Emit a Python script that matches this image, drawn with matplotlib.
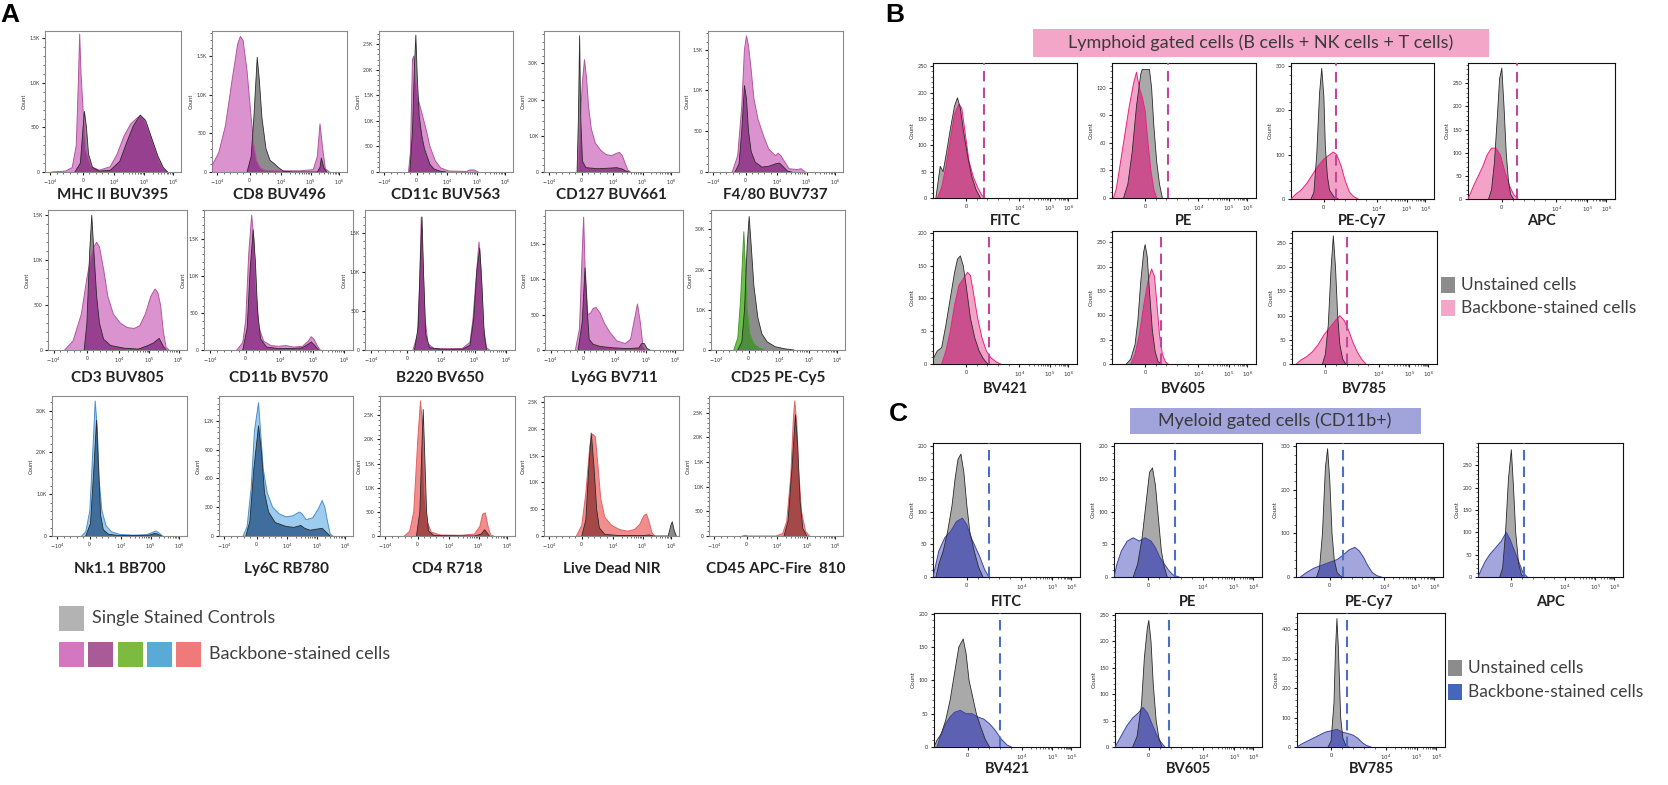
import numpy as np
import matplotlib
matplotlib.use("Agg")
import matplotlib.pyplot as plt
from matplotlib.patches import Rectangle
from matplotlib.ticker import AutoMinorLocator

plt.rcParams['font.family'] = ['Lato', 'DejaVu Sans']

# ---------------- data ----------------
# every curve: (position in % of the plot width, count)

# panel A, single stained control (grey) and backbone-stained
mhc2_ctrl = [(22, 0), (26, 100), (28, 500), (29, 680), (30.5, 500), (32, 200), (35, 50), (40, 10), (48, 20), (55, 120),
             (60, 330), (65, 520), (70, 640), (74, 580), (78, 400), (83, 180), (87, 50), (90, 0)]
mhc2_stain = [(5, 0), (15, 10), (20, 50), (23, 300), (24.5, 1000), (25.5, 1550), (26.5, 1100), (28, 700), (30, 250),
              (34, 60), (40, 20), (48, 60), (53, 200), (58, 400), (63, 540), (68, 610), (70, 630), (73, 590), (78, 390),
              (83, 160), (87, 40), (90, 0)]
cd8_ctrl = [(26, 0), (29, 200), (31, 700), (33.5, 1480), (35, 1200), (37, 700), (40, 300), (43, 150), (46, 110),
            (49, 60), (53, 10), (60, 0), (78, 0), (80, 60), (81, 180), (83, 50), (85, 0)]
cd8_stain = [(0, 0), (0, 80), (5, 250), (10, 600), (15, 1200), (19, 1650), (21, 1750), (23, 1700), (26, 1300), (29, 700),
             (31, 350), (33, 150), (36, 50), (40, 20), (50, 15), (65, 15), (75, 30), (78, 200), (80, 620), (82, 300),
             (84, 40), (87, 0)]
cd11c_ctrl = [(23, 0), (25, 800), (26.5, 2100), (27.5, 2680), (28.5, 1900), (30, 1100), (32, 700), (34, 450), (36, 300),
              (38, 150), (41, 60), (45, 20), (50, 0)]
cd11c_stain = [(22, 0), (23.5, 400), (25, 2200), (26, 2270), (27, 1900), (29, 1450), (31, 1250), (33, 1050), (35, 850),
               (38, 500), (42, 220), (46, 80), (52, 20), (65, 10), (68, 40), (71, 40), (74, 0)]
cd127_ctrl = [(24.5, 0), (25.5, 1500), (26.4, 3760), (27.2, 1500), (28.5, 300), (31, 120), (40, 90), (50, 110), (54, 120),
              (58, 80), (61, 20), (63, 0)]
cd127_stain = [(25, 0), (27, 1500), (28.5, 2500), (30, 3100), (31.5, 2600), (33, 1800), (35, 1200), (38, 800), (42, 600),
               (46, 480), (50, 450), (54, 520), (56, 540), (58, 450), (60, 250), (62, 60), (64, 0)]
f480_ctrl = [(20, 0), (23, 100), (25, 500), (27, 1060), (28.5, 900), (30, 500), (32, 250), (35, 120), (40, 60), (45, 70),
             (50, 100), (53, 110), (56, 60), (59, 10), (62, 0)]
f480_stain = [(18, 0), (22, 200), (25, 800), (27, 1500), (28.5, 1670), (30, 1550), (32, 1250), (34, 900), (37, 650),
              (41, 450), (45, 280), (50, 200), (52, 230), (54, 200), (57, 120), (60, 40), (66, 30), (69, 40), (72, 0)]
cd3_ctrl = [(26, 0), (28, 300), (30, 1100), (31.5, 1500), (33, 1100), (35, 600), (37, 300), (40, 120), (45, 50), (55, 20),
            (65, 10), (72, 50), (76, 80), (80, 130), (83, 40), (85, 0)]
cd3_stain = [(12, 0), (18, 100), (24, 400), (28, 800), (31, 1050), (33, 1150), (35, 1200), (37, 1150), (40, 900), (43, 600),
             (47, 400), (52, 300), (57, 250), (62, 240), (66, 270), (70, 400), (74, 600), (77, 680), (79, 640), (81, 500),
             (83, 200), (85, 30), (87, 0)]
cd11b_ctrl = [(26, 0), (29, 300), (31, 1100), (33, 1630), (34.5, 1200), (36, 500), (38, 150), (42, 40), (50, 20), (60, 20),
              (66, 30), (70, 80), (72, 110), (74, 70), (77, 0)]
cd11b_stain = [(22, 0), (26, 100), (28, 400), (30, 1300), (32, 1830), (33.5, 1500), (35, 800), (37, 300), (40, 120),
               (45, 60), (50, 50), (55, 60), (60, 40), (66, 50), (70, 120), (72, 180), (74, 140), (76, 60), (78, 0)]
b220_ctrl = [(33, 0), (35.5, 300), (37, 1200), (38, 1700), (39, 1000), (40.5, 200), (43, 30), (50, 10), (65, 10), (70, 60),
             (72.5, 400), (74.5, 1000), (76.5, 1300), (78, 800), (79.5, 200), (81, 0)]
b220_stain = [(32, 0), (35, 200), (36.5, 900), (37.5, 1700), (38.5, 1200), (40, 400), (42, 80), (46, 20), (55, 15),
              (65, 20), (70, 100), (72, 400), (74, 900), (76, 1380), (77.5, 1000), (79, 300), (81, 30), (83, 0)]
ly6g_ctrl = [(24, 0), (27, 400), (29, 1160), (30.5, 600), (32, 150), (35, 80), (40, 50), (50, 30), (60, 20), (68, 30),
             (70, 90), (72, 90), (74, 20), (76, 0)]
ly6g_stain = [(22, 0), (25, 300), (27, 1400), (28, 1880), (29, 1200), (31, 500), (33, 520), (35, 590), (37, 600), (40, 520),
              (43, 380), (47, 250), (52, 130), (58, 90), (62, 150), (65, 450), (67, 650), (69, 400), (71, 60), (73, 0)]
cd25_ctrl = [(20, 0), (23, 200), (25, 1000), (27, 2600), (28.5, 3320), (30, 2600), (32, 1600), (35, 800), (38, 400),
             (42, 200), (48, 80), (55, 30), (62, 0)]
cd25_stain = [(17, 0), (20, 300), (22, 1200), (24.5, 2940), (25.5, 2200), (27, 1000), (29, 400), (32, 150), (36, 50), (40, 0)]
nk11_ctrl = [(25, 0), (28.5, 300), (31, 1600), (33, 2770), (34.5, 1600), (36, 500), (38, 150), (42, 40), (50, 10), (60, 10),
             (72, 20), (76, 60), (78, 50), (81, 0)]
nk11_stain = [(22, 0), (25, 100), (28, 600), (30.5, 2200), (32, 3230), (33.5, 2600), (35, 1300), (37, 600), (40, 250),
              (44, 100), (50, 40), (60, 20), (70, 30), (74, 80), (77, 120), (79, 80), (82, 0)]
ly6c_ctrl = [(20, 0), (23, 150), (26, 700), (29.5, 1150), (31.5, 900), (34, 450), (37, 250), (42, 140), (50, 100), (56, 90),
             (61, 110), (64, 80), (68, 60), (72, 70), (77, 80), (80, 40), (83, 0)]
ly6c_stain = [(18, 0), (21, 100), (24, 500), (26.5, 1100), (29.5, 1390), (31, 1100), (33, 700), (36, 450), (40, 300),
              (45, 230), (50, 200), (55, 210), (60, 250), (62, 230), (65, 170), (70, 190), (74, 280), (77, 370), (79, 300),
              (81, 150), (83, 20), (85, 0)]
cd4_ctrl = [(27, 0), (29.5, 500), (31, 1800), (32, 2620), (33, 1800), (34.5, 500), (36, 100), (40, 10), (70, 0), (75, 40),
            (77.5, 130), (79.5, 60), (81, 0)]
cd4_stain = [(18, 0), (22, 100), (25, 500), (28, 2000), (30, 2800), (31.5, 2300), (33, 900), (35, 300), (38, 80), (45, 20),
             (60, 15), (70, 40), (74, 200), (76, 450), (78, 480), (80, 200), (82, 20), (84, 0)]
livedead_ctrl = [(28, 0), (31, 300), (33, 1200), (35, 1920), (37, 1300), (39, 500), (41, 150), (45, 30), (55, 10), (75, 10),
                 (78, 20), (81, 0), (92, 0), (94, 200), (95, 266), (96.5, 100), (98, 0)]
livedead_stain = [(24, 0), (28, 200), (31, 800), (34, 1700), (36, 1900), (38, 1850), (40, 1300), (42, 700), (45, 350),
                  (50, 200), (56, 120), (62, 90), (67, 120), (71, 220), (74, 380), (76, 410), (78, 250), (80, 60), (82, 0)]
cd45_ctrl = [(56, 0), (59, 300), (62, 1400), (64.5, 2460), (66, 1900), (68, 700), (70, 150), (73, 0)]
cd45_stain = [(25, 0), (27, 15), (29, 0), (50, 0), (55, 50), (58, 300), (61, 1200), (63, 2400), (64, 2740), (65.5, 2300),
              (67, 1300), (69, 500), (72, 100), (75, 0)]

a_names = ['MHC II BUV395', 'CD8 BUV496', 'CD11c BUV563', 'CD127 BUV661', 'F4/80 BUV737',
           'CD3 BUV805', 'CD11b BV570', 'B220 BV650', 'Ly6G BV711', 'CD25 PE-Cy5',
           'Nk1.1 BB700', 'Ly6C RB780', 'CD4 R718', 'Live Dead NIR', 'CD45 APC-Fire  810']
a_ctrl = [mhc2_ctrl, cd8_ctrl, cd11c_ctrl, cd127_ctrl, f480_ctrl, cd3_ctrl, cd11b_ctrl, b220_ctrl, ly6g_ctrl, cd25_ctrl,
          nk11_ctrl, ly6c_ctrl, cd4_ctrl, livedead_ctrl, cd45_ctrl]
a_stain = [mhc2_stain, cd8_stain, cd11c_stain, cd127_stain, f480_stain, cd3_stain, cd11b_stain, b220_stain, ly6g_stain,
           cd25_stain, nk11_stain, ly6c_stain, cd4_stain, livedead_stain, cd45_stain]
a_ymax = [1584, 1820, 2760, 3890, 1730, 1560, 1900, 1790, 1980, 3480, 3350, 1460, 2900, 2610, 2840]
a_yticks = [[0, 500, 1000, 1500], [0, 500, 1000, 1500], [0, 500, 1000, 1500, 2000, 2500], [0, 1000, 2000, 3000],
            [0, 500, 1000, 1500], [0, 500, 1000, 1500], [0, 500, 1000, 1500], [0, 500, 1000, 1500],
            [0, 500, 1000, 1500], [0, 1000, 2000, 3000], [0, 1000, 2000, 3000], [0, 300, 600, 900, 1200],
            [0, 500, 1000, 1500, 2000, 2500], [0, 500, 1000, 1500, 2000, 2500], [0, 500, 1000, 1500, 2000, 2500]]
a_theme = ['pink'] * 9 + ['green'] + ['blue'] * 2 + ['red'] * 3
a_xticklabels = [r'$-10^4$', '0', r'$10^4$', r'$10^5$', r'$10^6$']

# panels B (lymphoid) and C (myeloid): unstained (grey) and backbone-stained
b_fitc_ctrl = [(2, 0), (3, 20), (5, 60), (7, 50), (9, 80), (12, 130), (15, 175), (17, 190), (19, 170), (21, 130), (24, 80),
               (27, 40), (30, 15), (33, 0)]
b_fitc_stain = [(3, 0), (6, 20), (9, 60), (12, 110), (15, 160), (18, 178), (20, 170), (22, 130), (25, 70), (28, 40),
                (31, 20), (34, 5), (36, 0)]
b_pe_ctrl = [(8, 0), (11, 15), (14, 50), (17, 100), (20, 135), (21, 140), (26, 140), (27.5, 120), (29, 80), (31, 40),
             (33, 15), (35, 0)]
b_pe_stain = [(1, 0), (3, 10), (6, 40), (9, 70), (12, 100), (15, 125), (17, 137), (19, 120), (21, 110), (23, 95), (25, 60),
              (27, 30), (29, 10), (31, 0)]
b_pecy7_ctrl = [(14, 0), (16, 15), (18, 100), (20, 240), (21.5, 295), (23, 230), (24, 120), (25.5, 50), (27, 20), (30, 5),
                (33, 0)]
b_pecy7_stain = [(0, 0), (3, 10), (7, 20), (11, 35), (15, 55), (19, 75), (23, 90), (27, 100), (29.5, 106), (32, 100),
                 (35, 75), (38, 40), (41, 15), (44, 5), (47, 0)]
b_apc_ctrl = [(14, 0), (16, 20), (18, 80), (20, 180), (21.5, 260), (23, 283), (24.5, 200), (26, 100), (27.5, 40), (29, 10),
              (31, 0)]
b_apc_stain = [(0, 0), (2, 15), (4, 30), (7, 50), (10, 70), (13, 95), (16, 110), (19, 110), (22, 95), (25, 60), (28, 30),
               (31, 10), (34, 0)]
b_bv421_ctrl = [(0, 0), (0.5, 10), (3, 20), (6, 25), (9, 60), (12, 100), (15, 140), (17, 160), (19, 165), (21, 150),
                (23, 120), (26, 70), (29, 40), (32, 20), (35, 8), (38, 0)]
b_bv421_stain = [(6, 0), (9, 20), (12, 50), (15, 90), (18, 120), (21, 130), (24, 140), (26, 135), (28, 110), (31, 70),
                 (34, 40), (37, 20), (40, 10), (44, 3), (47, 0)]
b_bv605_ctrl = [(10, 0), (13, 10), (16, 40), (18, 90), (20, 170), (22, 230), (23, 245), (24.5, 220), (26, 150), (28, 70),
                (30, 25), (32, 5), (34, 0)]
b_bv605_stain = [(13, 0), (16, 20), (19, 60), (22, 120), (25, 170), (27.5, 195), (29.5, 180), (31, 130), (33, 60), (35, 20),
                 (37, 5), (39, 0)]
b_bv785_ctrl = [(21, 0), (23, 20), (25, 80), (27, 200), (28.5, 265), (30, 200), (31.5, 100), (33, 40), (35, 10), (37, 0)]
b_bv785_stain = [(3, 0), (6, 8), (10, 15), (14, 25), (18, 40), (22, 60), (26, 75), (30, 90), (33, 100), (36, 90), (39, 70),
                 (42, 45), (45, 25), (48, 10), (51, 0)]

c_fitc_ctrl = [(2, 0), (4, 20), (7, 40), (10, 70), (13, 110), (15, 150), (17, 180), (19, 188), (21, 160), (23, 110),
               (25, 70), (28, 40), (31, 15), (34, 0)]
c_fitc_stain = [(0, 0), (1, 10), (4, 40), (8, 60), (12, 70), (16, 85), (20, 90), (23, 80), (26, 60), (29, 45), (32, 30),
                (35, 12), (38, 0)]
c_pe_ctrl = [(13, 0), (16, 20), (19, 60), (22, 120), (24, 160), (26, 167), (28, 140), (30, 90), (32, 40), (34, 15), (36, 0)]
c_pe_stain = [(0, 0), (2, 20), (5, 40), (9, 55), (13, 60), (17, 55), (21, 60), (25, 55), (28, 45), (31, 30), (34, 20),
              (37, 10), (40, 3), (44, 0)]
c_pecy7_ctrl = [(14, 0), (16, 20), (18, 100), (20, 250), (21.5, 294), (23, 220), (24.5, 100), (26, 40), (28, 10), (31, 0)]
c_pecy7_stain = [(3, 0), (7, 10), (12, 20), (16, 25), (20, 30), (24, 35), (28, 40), (32, 50), (36, 62), (40, 68), (43, 60),
                 (46, 45), (49, 25), (52, 10), (55, 3), (58, 0)]
c_apc_ctrl = [(15, 0), (17, 20), (19, 100), (21, 220), (23, 285), (24.5, 200), (26, 100), (28, 30), (30, 5), (32, 0)]
c_apc_stain = [(0, 0), (2, 15), (5, 35), (8, 50), (12, 65), (16, 80), (19.5, 100), (22, 85), (25, 60), (28, 35), (31, 10),
               (34, 0)]
c_bv421_ctrl = [(0, 0), (2, 10), (5, 20), (8, 40), (11, 70), (14, 110), (17, 150), (20, 162), (22, 140), (24, 100),
                (26, 80), (29, 50), (32, 30), (35, 12), (38, 0)]
c_bv421_stain = [(2, 0), (5, 20), (8, 35), (11, 45), (14, 52), (18, 55), (22, 50), (26, 50), (30, 45), (34, 42), (38, 35),
                 (42, 25), (46, 12), (50, 3), (53, 0)]
c_bv605_ctrl = [(12, 0), (15, 20), (18, 80), (20, 170), (22, 225), (23, 240), (24.5, 200), (26, 120), (28, 50), (30, 15),
                (32, 0)]
c_bv605_stain = [(0, 0), (2, 10), (5, 25), (8, 40), (12, 55), (16, 65), (19, 75), (22, 65), (25, 45), (28, 25), (31, 10),
                 (34, 0)]
c_bv785_ctrl = [(21, 0), (23, 20), (25, 150), (26, 330), (27, 436), (28, 330), (29.5, 100), (31, 30), (33, 5), (35, 0)]
c_bv785_stain = [(0, 0), (3, 10), (7, 20), (11, 30), (15, 40), (19, 50), (23, 55), (27, 60), (31, 50), (35, 45), (38, 40),
                 (41, 30), (44, 15), (47, 5), (50, 0)]

bc_names = ['FITC', 'PE', 'PE-Cy7', 'APC', 'BV421', 'BV605', 'BV785']
b_ctrl = [b_fitc_ctrl, b_pe_ctrl, b_pecy7_ctrl, b_apc_ctrl, b_bv421_ctrl, b_bv605_ctrl, b_bv785_ctrl]
b_stain = [b_fitc_stain, b_pe_stain, b_pecy7_stain, b_apc_stain, b_bv421_stain, b_bv605_stain, b_bv785_stain]
b_gate = [35.5, 39, 31.5, 33, 39, 34, 38]
b_ymax = [256, 147, 307, 294, 203, 273, 275]
b_yticks = [[0, 50, 100, 150, 200, 250], [0, 30, 60, 90, 120], [0, 100, 200, 300], [0, 50, 100, 150, 200, 250],
            [0, 50, 100, 150, 200], [0, 50, 100, 150, 200, 250], [0, 50, 100, 150, 200, 250]]
c_ctrl = [c_fitc_ctrl, c_pe_ctrl, c_pecy7_ctrl, c_apc_ctrl, c_bv421_ctrl, c_bv605_ctrl, c_bv785_ctrl]
c_stain = [c_fitc_stain, c_pe_stain, c_pecy7_stain, c_apc_stain, c_bv421_stain, c_bv605_stain, c_bv785_stain]
c_gate = [38, 41, 32, 32, 45, 37, 34]
c_ymax = [205, 205, 307, 300, 201, 254, 455]
c_yticks = [[0, 50, 100, 150, 200], [0, 50, 100, 150, 200], [0, 100, 200, 300], [0, 50, 100, 150, 200, 250],
            [0, 50, 100, 150, 200], [0, 50, 100, 150, 200, 250], [0, 100, 200, 300, 400]]
bc_xticklabels = ['0', r'$10^4$', r'$10^5$', r'$10^6$']

# ---------------- layout (pixels) ----------------
W, H = 1668, 785
a_boxes = [(45, 31, 181, 172), (212, 31, 347, 172), (379, 31, 513, 172), (544, 31, 679, 172), (708, 31, 843, 172),
           (48, 210, 187, 350), (204, 210, 353, 350), (365, 210, 515, 350), (545, 210, 683, 350), (711, 210, 845, 350),
           (52, 396, 187, 536), (219, 396, 353, 536), (380, 396, 515, 536), (544, 396, 679, 536), (709, 396, 843, 536)]
a_label_y = [195] * 5 + [378] * 5 + [569] * 5
b_boxes = [(933, 63, 1077, 198), (1112, 63, 1256, 198), (1291, 63, 1434, 199), (1468, 63, 1615, 199),
           (933, 231, 1077, 364), (1112, 231, 1256, 364), (1292, 231, 1437, 364)]
b_label_y = [221] * 4 + [389] * 3
c_boxes = [(933, 443, 1080, 577), (1114, 443, 1262, 577), (1296, 443, 1443, 577), (1478, 443, 1623, 577),
           (934, 613, 1080, 747), (1115, 613, 1262, 747), (1297, 613, 1445, 747)]
c_label_y = [602] * 4 + [769] * 3

themes = {
    'pink': ('#db93cf', '#97408f', '#b4559f'),
    'green': ('#6cc04a', '#4d8f3a', '#4c9a30'),
    'blue': ('#9dccee', '#3f6d9c', '#4a8fcf'),
    'red': ('#f28d8d', '#a64848', '#e06464'),
    'lymph': ('#f4a3c8', '#c9508c', '#e8237f'),
    'myel': ('#a2a6dc', '#5c61b2', '#3c46a6'),
}

fig = plt.figure(figsize=(W / 100, H / 100), dpi=100)


def px_axes(box):
    l, t, r, b = box
    return fig.add_axes([l / W, 1 - b / H, (r - l) / W, (b - t) / H])


def minor_positions(majors, log_from):
    out = []
    for i in range(len(majors) - 1):
        a, b = majors[i], majors[i + 1]
        if i >= log_from:
            out += [a + (b - a) * np.log10(k) for k in range(2, 10)]
        else:
            out += [a + (b - a) * k / 5 for k in range(1, 5)]
    return out


def kfmt(v):
    return f'{v / 1000:.1f}K' if v >= 1000 else str(v)


def draw_pair(ax, ctrl, stain, theme, grey):
    light, dark, edge = themes[theme]
    cx, cy = [p[0] for p in ctrl], [p[1] for p in ctrl]
    sx, sy = [p[0] for p in stain], [p[1] for p in stain]
    ax.fill(cx, cy, color=grey, lw=0, zorder=1)
    sp = ax.fill(sx, sy, color=light, lw=0, zorder=2)[0]
    ov = ax.fill(cx, cy, color=dark, lw=0, zorder=3)[0]
    ov.set_clip_path(sp)
    ax.plot(sx, sy, color=edge, lw=0.7, zorder=4)
    ax.plot(cx, cy, color='#2a2a2a', lw=0.6, zorder=5)


def style_axes(ax, ymax, yticks, majors, labels, log_from, spine_col, fs):
    ax.set_xlim(0, 100)
    ax.set_ylim(0, ymax)
    ax.set_xticks(majors)
    ax.set_xticklabels(labels, fontsize=fs, color='#333333')
    ax.set_xticks(minor_positions(majors, log_from), minor=True)
    ax.set_yticks(yticks)
    ax.set_yticklabels([kfmt(v) for v in yticks], fontsize=fs, color='#333333')
    ax.yaxis.set_minor_locator(AutoMinorLocator(5))
    ax.tick_params(axis='both', which='major', length=2.5, width=0.8, pad=1.5, color='#222222')
    ax.tick_params(axis='both', which='minor', length=1.5, width=0.5, color='#333333')
    ax.set_ylabel('Count', fontsize=fs + 0.5, labelpad=2, color='#333333')
    for s in ax.spines.values():
        s.set_color(spine_col)
        s.set_linewidth(0.8)


# ---------------- panel A ----------------
for i in range(15):
    ax = px_axes(a_boxes[i])
    draw_pair(ax, a_ctrl[i], a_stain[i], a_theme[i], '#8c8c8c')
    style_axes(ax, a_ymax[i], a_yticks[i], [4, 28, 51, 73, 94], a_xticklabels, 2, '#8a8a8a', 3.6)
    l, t, r, b = a_boxes[i]
    fig.text((l + r) / 2 / W, 1 - a_label_y[i] / H, a_names[i], ha='center', va='center',
             fontsize=11, fontweight='bold', color='#222222')

# ---------------- panels B and C ----------------
for boxes, label_y, ctrls, stains, gates, ymaxs, ytks, theme, gate_col in [
        (b_boxes, b_label_y, b_ctrl, b_stain, b_gate, b_ymax, b_yticks, 'lymph', '#c2479b'),
        (c_boxes, c_label_y, c_ctrl, c_stain, c_gate, c_ymax, c_yticks, 'myel', '#4a6fc4')]:
    for i in range(7):
        ax = px_axes(boxes[i])
        draw_pair(ax, ctrls[i], stains[i], theme, '#a9a9a9')
        ax.axvline(gates[i], color=gate_col, lw=1.5, dashes=(5, 3), zorder=6)
        style_axes(ax, ymaxs[i], ytks[i], [23, 60, 81, 94], bc_xticklabels, 1, '#111111', 4.0)
        l, t, r, b = boxes[i]
        fig.text((l + r) / 2 / W, 1 - label_y[i] / H, bc_names[i], ha='center', va='center',
                 fontsize=10.5, fontweight='bold', color='#222222')


def px_rect(x0, y0, x1, y1, color):
    fig.patches.append(Rectangle((x0 / W, 1 - y1 / H), (x1 - x0) / W, (y1 - y0) / H,
                                 transform=fig.transFigure, facecolor=color, edgecolor='none'))


def px_text(x, y, s, **kw):
    fig.text(x / W, 1 - y / H, s, **kw)


# title bars
px_rect(1033, 29, 1489, 57, '#f4a6c9')
px_text(1261, 43, 'Lymphoid gated cells (B cells + NK cells + T cells)', ha='center', va='center',
        fontsize=13, color='#3a3a3a')
px_rect(1130, 408, 1421, 434, '#a0a4da')
px_text(1275, 421, 'Myeloid gated cells (CD11b+)', ha='center', va='center', fontsize=13, color='#3a3a3a')

# panel letters
for x, y, s in [(10, 15, 'A'), (895, 15, 'B'), (898, 414, 'C')]:
    px_text(x, y, s, ha='center', va='center', fontsize=19, fontweight='bold',
            family=['Liberation Sans', 'DejaVu Sans'], color='black')

# legend A
px_rect(59, 606, 84, 631, '#b3b3b3')
px_text(92, 618, 'Single Stained Controls', ha='left', va='center', fontsize=13, color='#404040')
for x0, col in zip([59, 88, 118, 147, 176], ['#d277c0', '#a95b98', '#7cbb3f', '#5aaad8', '#f07a7a']):
    px_rect(x0, 642, x0 + 25, 667, col)
px_text(209, 654, 'Backbone-stained cells', ha='left', va='center', fontsize=13, color='#404040')

# legends B and C
for y0, y1, col, txt in [(277, 293, '#8c8c8c', 'Unstained cells'), (300, 316, '#f4a6c9', 'Backbone-stained cells')]:
    px_rect(1441, y0, 1455, y1, col)
    px_text(1461, (y0 + y1) / 2, txt, ha='left', va='center', fontsize=12.5, color='#404040')
for y0, y1, col, txt in [(660, 676, '#8c8c8c', 'Unstained cells'), (684, 700, '#4466bb', 'Backbone-stained cells')]:
    px_rect(1448, y0, 1462, y1, col)
    px_text(1468, (y0 + y1) / 2, txt, ha='left', va='center', fontsize=12.5, color='#404040')

fig.savefig('out.png', dpi=100)
